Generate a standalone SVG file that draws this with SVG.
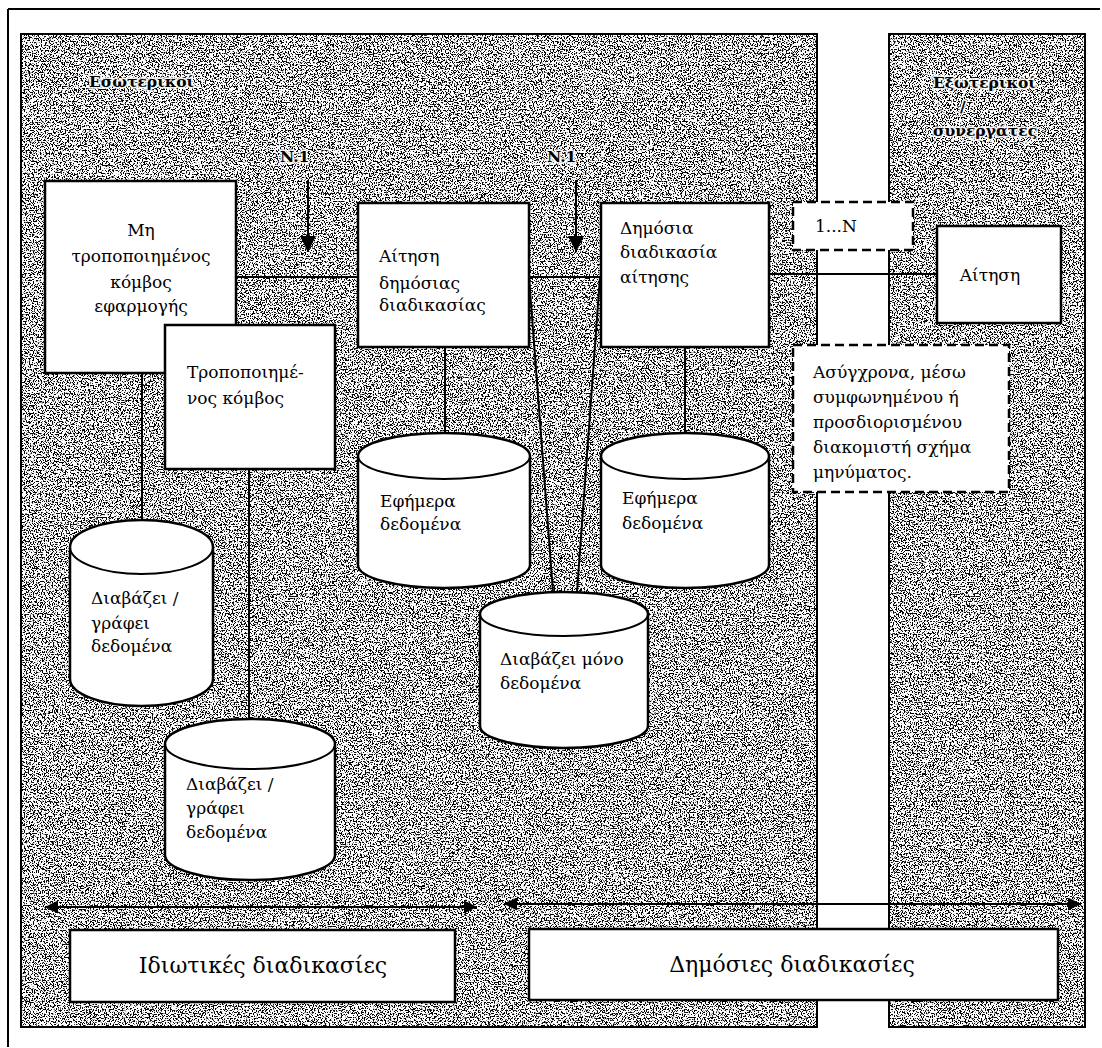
<svg xmlns="http://www.w3.org/2000/svg" width="1102" height="1048" viewBox="0 0 1102 1048">
<style>
  .t{font-family:"DejaVu Serif","Liberation Serif",serif;font-size:17px;fill:#000}
  .lab{font-family:"DejaVu Serif","Liberation Serif",serif;font-size:15.5px;font-weight:bold;fill:#000;stroke:#fff;stroke-opacity:0.85;stroke-width:3.5px;paint-order:stroke;stroke-linejoin:round}
  .big{font-family:"DejaVu Serif","Liberation Serif",serif;font-size:22px;fill:#000}
  .box{fill:#fff;stroke:#000;stroke-width:2.5}
  .dash{fill:#fff;stroke:#000;stroke-width:2.5;stroke-dasharray:9 5}
  .cyl{fill:#fff;stroke:#000;stroke-width:2.5}
  .ln{stroke:#000;stroke-width:2;fill:none}
  .panel{fill:#fff;stroke:#000;stroke-width:2}
</style>
<defs>
  <filter id="grain" x="0" y="0" width="1" height="1" color-interpolation-filters="sRGB">
    <feTurbulence type="fractalNoise" baseFrequency="0.75" numOctaves="2" seed="7"/>
    <feColorMatrix type="matrix" values="0 0 0 0 0  0 0 0 0 0  0 0 0 0 0  14 0 0 0 -7.15"/>
  </filter>
  <marker id="ah" viewBox="0 0 10 10" refX="10" refY="5" markerUnits="userSpaceOnUse" markerWidth="17" markerHeight="16" orient="auto-start-reverse">
    <path d="M0,0 L10,5 L0,10 z" fill="#000"/>
  </marker>
  <marker id="ah2" viewBox="0 0 10 10" refX="10" refY="5" markerUnits="userSpaceOnUse" markerWidth="17" markerHeight="13" orient="auto-start-reverse">
    <path d="M0,0 L10,5 L0,10 z" fill="#000"/>
  </marker>
</defs>
<rect width="1102" height="1048" fill="#fff"/>
<g id="frame">
  <line x1="8" y1="9" x2="1100" y2="9" class="ln"/>
  <line x1="8" y1="9" x2="8" y2="1047" class="ln"/>
</g>
<g id="panel-internal">
  <rect x="21" y="34" width="796" height="993" class="panel"/>
  <rect x="21" y="34" width="796" height="993" filter="url(#grain)"/>
  <rect x="21" y="34" width="796" height="993" fill="none" stroke="#000" stroke-width="2"/>
  <text x="89" y="87" class="lab">Εσωτερικοί</text>
</g>
<g id="panel-external">
  <rect x="889" y="34" width="196" height="993" class="panel"/>
  <rect x="889" y="34" width="196" height="993" filter="url(#grain)"/>
  <rect x="889" y="34" width="196" height="993" fill="none" stroke="#000" stroke-width="2"/>
  <text x="933" y="88" class="lab">Εξωτερικοί</text>
  <text x="960" y="112" class="lab">/</text>
  <text x="933" y="136" class="lab">συνεργάτες</text>
</g>
<g id="connectors">
  <line x1="236" y1="277" x2="358" y2="277" class="ln"/>
  <line x1="529" y1="277" x2="601" y2="277" class="ln"/>
  <line x1="769" y1="274" x2="937" y2="274" class="ln"/>
  <line x1="142" y1="373" x2="142" y2="520" class="ln"/>
  <line x1="249" y1="469" x2="249" y2="720" class="ln"/>
  <line x1="445" y1="347" x2="445" y2="434" class="ln"/>
  <line x1="685" y1="347" x2="685" y2="434" class="ln"/>
  <line x1="529" y1="277" x2="553" y2="592" class="ln"/>
  <line x1="600" y1="277" x2="577" y2="592" class="ln"/>
  <line x1="308" y1="180" x2="308" y2="252" class="ln" stroke-width="2.5" marker-end="url(#ah)"/>
  <line x1="576" y1="180" x2="576" y2="252" class="ln" stroke-width="2.5" marker-end="url(#ah)"/>
  <line x1="45" y1="907" x2="477" y2="907" class="ln" stroke-width="2.5" marker-start="url(#ah2)" marker-end="url(#ah2)"/>
  <line x1="504" y1="904" x2="1081" y2="904" class="ln" stroke-width="2.5" marker-start="url(#ah2)" marker-end="url(#ah2)"/>
</g>
<g id="label-n1-a"><text x="280" y="162" class="lab">N.1</text></g>
<g id="label-n1-b"><text x="547" y="162" class="lab">N.1</text></g>
<g id="node-unmodified">
  <rect x="45" y="181" width="191" height="192" class="box"/>
  <text class="t" text-anchor="middle"><tspan x="141" y="236">Μη</tspan><tspan x="141" y="262">τροποποιημένος</tspan><tspan x="141" y="288">κόμβος</tspan><tspan x="141" y="312">εφαρμογής</tspan></text>
</g>
<g id="node-modified">
  <rect x="165" y="325" width="170" height="144" class="box"/>
  <text class="t"><tspan x="187" y="378">Τροποποιημέ-</tspan><tspan x="187" y="404">νος κόμβος</tspan></text>
</g>
<g id="node-public-request">
  <rect x="358" y="203" width="171" height="144" class="box"/>
  <text class="t"><tspan x="379" y="262">Αίτηση</tspan><tspan x="379" y="289">δημόσιας</tspan><tspan x="379" y="311">διαδικασίας</tspan></text>
</g>
<g id="node-public-process">
  <rect x="601" y="203" width="168" height="144" class="box"/>
  <text class="t"><tspan x="620" y="234">Δημόσια</tspan><tspan x="620" y="258">διαδικασία</tspan><tspan x="620" y="283">αίτησης</tspan></text>
</g>
<g id="node-1n">
  <rect x="793" y="202" width="120" height="48" class="dash"/>
  <text x="815" y="232" class="t">1...N</text>
</g>
<g id="node-request">
  <rect x="937" y="226" width="124" height="97" class="box"/>
  <text x="990" y="281" class="t" text-anchor="middle">Αίτηση</text>
</g>
<g id="node-async">
  <rect x="793" y="345" width="216" height="147" class="dash"/>
  <text class="t"><tspan x="813" y="378">Ασύγχρονα, μέσω</tspan><tspan x="813" y="403">συμφωνημένου ή</tspan><tspan x="813" y="428">προσδιορισμένου</tspan><tspan x="813" y="453">διακομιστή  σχήμα</tspan><tspan x="813" y="478">μηνύματος.</tspan></text>
</g>
<g id="cyl-rw-1">
  <path d="M70,547 A71.5,27 0 0 1 213,547 L213,679 A71.5,27 0 0 1 70,679 Z" class="cyl"/>
  <path d="M70,547 A71.5,27 0 0 0 213,547" class="ln" stroke-width="2.5"/>
  <text class="t"><tspan x="91" y="604">Διαβάζει /</tspan><tspan x="91" y="629">γράφει</tspan><tspan x="91" y="652">δεδομένα</tspan></text>
</g>
<g id="cyl-rw-2">
  <path d="M165,744 A85,25 0 0 1 335,744 L335,855 A85,25 0 0 1 165,855 Z" class="cyl"/>
  <path d="M165,744 A85,25 0 0 0 335,744" class="ln" stroke-width="2.5"/>
  <text class="t"><tspan x="186" y="790">Διαβάζει /</tspan><tspan x="186" y="814">γράφει</tspan><tspan x="186" y="838">δεδομένα</tspan></text>
</g>
<g id="cyl-ephemeral-1">
  <path d="M358,456 A86,23 0 0 1 530,456 L530,565 A86,23 0 0 1 358,565 Z" class="cyl"/>
  <path d="M358,456 A86,23 0 0 0 530,456" class="ln" stroke-width="2.5"/>
  <text class="t"><tspan x="380" y="507">Εφήμερα</tspan><tspan x="380" y="530">δεδομένα</tspan></text>
</g>
<g id="cyl-ephemeral-2">
  <path d="M601,456 A84,23 0 0 1 769,456 L769,565 A84,23 0 0 1 601,565 Z" class="cyl"/>
  <path d="M601,456 A84,23 0 0 0 769,456" class="ln" stroke-width="2.5"/>
  <text class="t"><tspan x="622" y="504">Εφήμερα</tspan><tspan x="622" y="529">δεδομένα</tspan></text>
</g>
<g id="cyl-readonly">
  <path d="M480,614 A84,22 0 0 1 648,614 L648,726 A84,22 0 0 1 480,726 Z" class="cyl"/>
  <path d="M480,614 A84,22 0 0 0 648,614" class="ln" stroke-width="2.5"/>
  <text class="t"><tspan x="500" y="665">Διαβάζει μόνο</tspan><tspan x="500" y="689">δεδομένα</tspan></text>
</g>
<g id="node-private">
  <rect x="70" y="930" width="385" height="72" class="box"/>
  <text x="263" y="973" class="big" text-anchor="middle">Ιδιωτικές διαδικασίες</text>
</g>
<g id="node-public">
  <rect x="529" y="929" width="529" height="71" class="box"/>
  <text x="792" y="972" class="big" text-anchor="middle">Δημόσιες διαδικασίες</text>
</g>
</svg>
